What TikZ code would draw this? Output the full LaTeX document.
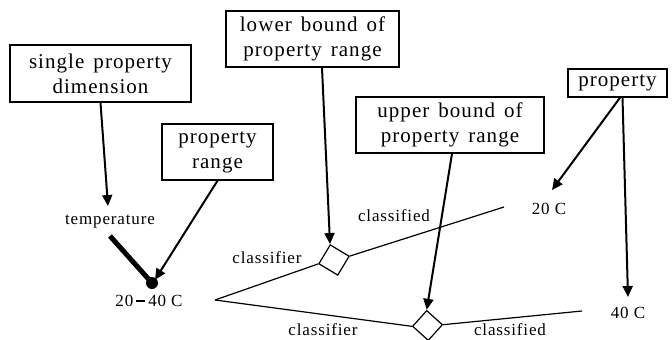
\documentclass[tikz,border=0pt]{standalone}
\usepackage{fontspec}
\setmainfont{Liberation Serif}
\newfontfamily\boxfont{Liberation Serif}[LetterSpace=5]
\newfontfamily\labfont{Liberation Serif}[LetterSpace=5]
\newcommand\myboxfont{\boxfont\fontsize{21}{25}\selectfont\spaceskip=9pt plus 1pt minus 1pt\relax}
\usetikzlibrary{arrows.meta}
\tikzset{
  box/.style={draw,line width=1.4pt,inner sep=0pt,align=center,
    font=\myboxfont},
  lab/.style={inner sep=1pt,font=\labfont\fontsize{17}{20}\selectfont},
  arr/.style={line width=2pt,-{Triangle[length=11pt,width=10pt]}},
  link/.style={line width=1.2pt},
  dia/.style={draw,line width=1.2pt,fill=white,inner sep=0pt,minimum size=22pt},
}
\begin{document}
\begin{tikzpicture}[x=1pt,y=-1pt]
\useasboundingbox (0,0) rectangle (672,340);
% boxes
\node[box,minimum width=181pt,minimum height=57pt] (b1) at (100.5,73.5) {single property\\dimension};
\node[box,minimum width=111pt,minimum height=56pt] (b2) at (217.5,152) {property\\range};
\node[box,minimum width=173pt,minimum height=56pt] (b3) at (312.5,39) {lower bound of\\property range};
\node[box,minimum width=188pt,minimum height=56pt] (b4) at (450,125) {upper bound of\\property range};
\node[box,minimum width=99pt,minimum height=28pt] (b5) at (617.5,83) {property};
% labels
\node[lab] (temp) at (110,222) {temperature};
\node[lab] (range) at (149,301) {20\,\rule[0.28em]{0.55em}{2.2pt}\,40 C};
\node[lab] (t20) at (549,209) {20 C};
\node[lab] (t40) at (628,313) {40 C};
\node[lab] (cl1) at (267,258) {classifier};
\node[lab] (cd1) at (394,216) {classified};
\node[lab] (cl2) at (323,330) {classifier};
\node[lab] (cd2) at (510,330) {classified};
% dot and diamonds
\node[circle,fill=black,inner sep=0pt,minimum size=12pt] (dot) at (152,283) {};
\node[dia,rotate=-31] (d1) at (334,260) {};
\node[dia,rotate=-42,minimum size=21pt] (d2) at (427.5,325.5) {};
% free ends
\coordinate (apex) at (215,300);
\coordinate (e1) at (504,207);
\coordinate (e2) at (582,311);
\coordinate (tempin) at (108,206);
\coordinate (tempout) at (110,236);
\coordinate (tip20) at (552,190);
\coordinate (tip40) at (628,297);
% links
\draw[link] (apex) -- (d1.south west);
\draw[link] (d1.north east) -- (e1);
\draw[link] (apex) -- (d2.south west);
\draw[link] (d2.north east) -- (e2);
% arrows
\draw[arr] (b1.south) -- (tempin);
\draw[line width=5pt] (tempout) -- (dot.center);
\draw[arr] (b2.south) -- ([xshift=3pt,yshift=-3pt]dot.north);
\draw[arr] ([xshift=9.5pt]b3.south) -- (d1.north west);
\draw[arr] ([xshift=2pt]b4.south) -- (d2.north west);
\draw[arr] ([xshift=2.5pt]b5.south) -- (tip20);
\draw[arr] ([xshift=5pt]b5.south) -- (tip40);
\end{tikzpicture}
\end{document}
